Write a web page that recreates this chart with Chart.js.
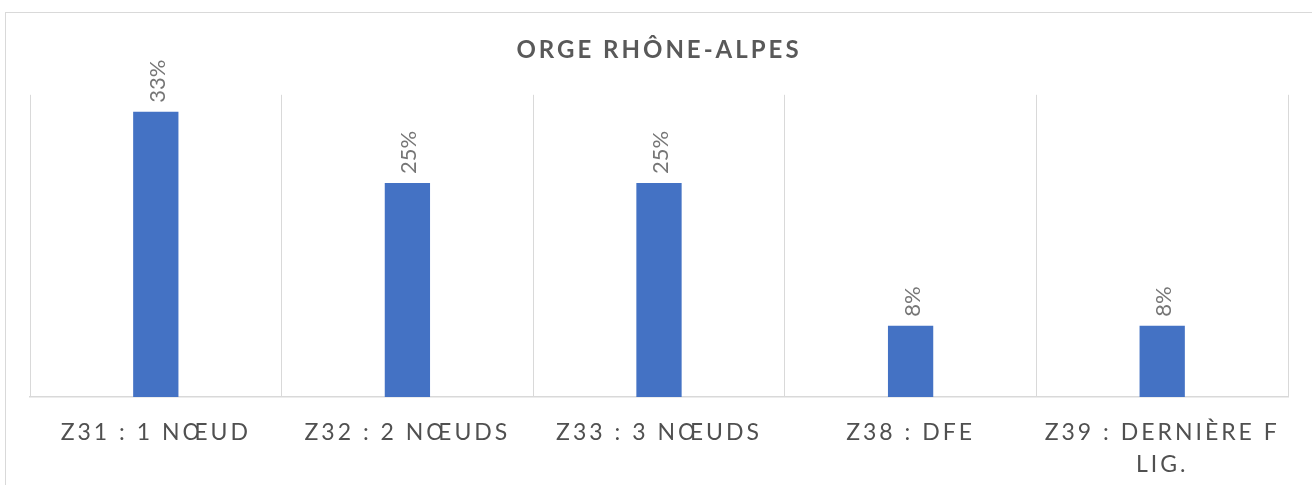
<!DOCTYPE html>
<html>
<head>
<meta charset="utf-8">
<script src="https://cdn.jsdelivr.net/npm/chart.js@4"></script>
<style>
  html, body { margin: 0; padding: 0; background: #fff; }
  #wrap { position: relative; width: 1312px; height: 485px; overflow: hidden; }
  #frame { position: absolute; left: 5px; top: 12px; width: 1310px; height: 520px; border: 1.5px solid #d9d9d9; box-sizing: border-box; }
  canvas { position: absolute; left: 0; top: 0; }
</style>
</head>
<body>
<div id="wrap">
  <div id="frame"></div>
  <canvas id="chart" width="1312" height="485"></canvas>
</div>
<script>
// Orge Rhône-Alpes - répartition par stade
const categories = ['Z31 : 1 NŒUD', 'Z32 : 2 NŒUDS', 'Z33 : 3 NŒUDS', 'Z38 : DFE', ['Z39 : DERNIÈRE F', 'LIG.']];
const shares = [33.33, 25, 25, 8.33, 8.33];
const shareLabels = ['33%', '25%', '25%', '8%', '8%'];

const barLabels = {
    id: 'barLabels',
    afterDatasetsDraw(chart) {
        const ctx = chart.ctx;
        const meta = chart.getDatasetMeta(0);
        ctx.save();
        ctx.letterSpacing = '0px';
        ctx.font = '22px Lato';
        ctx.fillStyle = '#767676';
        ctx.textAlign = 'left';
        ctx.textBaseline = 'middle';
        meta.data.forEach((bar, i) => {
            ctx.save();
            ctx.translate(bar.x + 2, bar.y - 9);
            ctx.rotate(-Math.PI / 2);
            ctx.fillText(shareLabels[i], 0, 0);
            ctx.restore();
        });
        ctx.restore();
    }
};

// espacement des lettres comme dans Excel
const spacing = {
    id: 'spacing',
    beforeLayout(chart) { chart.ctx.letterSpacing = '3px'; },
    beforeDraw(chart) { chart.ctx.letterSpacing = '3px'; }
};

new Chart(document.getElementById('chart'), {
    type: 'bar',
    data: {
        labels: categories,
        datasets: [{
            data: shares,
            backgroundColor: '#4472c4',
            borderWidth: 0,
            categoryPercentage: 1,
            barPercentage: 0.18
        }]
    },
    options: {
        responsive: false,
        animation: false,
        layout: { padding: { left: 30, right: 24, top: 20, bottom: 0 } },
        plugins: {
            legend: { display: false },
            tooltip: { enabled: false },
            title: {
                display: true,
                text: 'ORGE RHÔNE-ALPES',
                color: '#595959',
                font: { family: 'Lato', size: 24, weight: 'bold', lineHeight: 1.2 },
                padding: { top: 16, bottom: 30 }
            }
        },
        scales: {
            x: {
                afterFit(scale) { scale.height = 88; },
                grid: { display: true, color: '#d9d9d9', lineWidth: 1, drawTicks: false, offset: true },
                border: { display: true, color: '#d9d9d9', width: 1.5 },
                ticks: {
                    color: '#505050',
                    font: { family: 'Lato', size: 23, lineHeight: 1.4 },
                    padding: 19,
                    maxRotation: 0,
                    autoSkip: false
                }
            },
            y: {
                display: false,
                min: 0,
                max: 35.3
            }
        }
    },
    plugins: [spacing, barLabels]
});
</script>
</body>
</html>
